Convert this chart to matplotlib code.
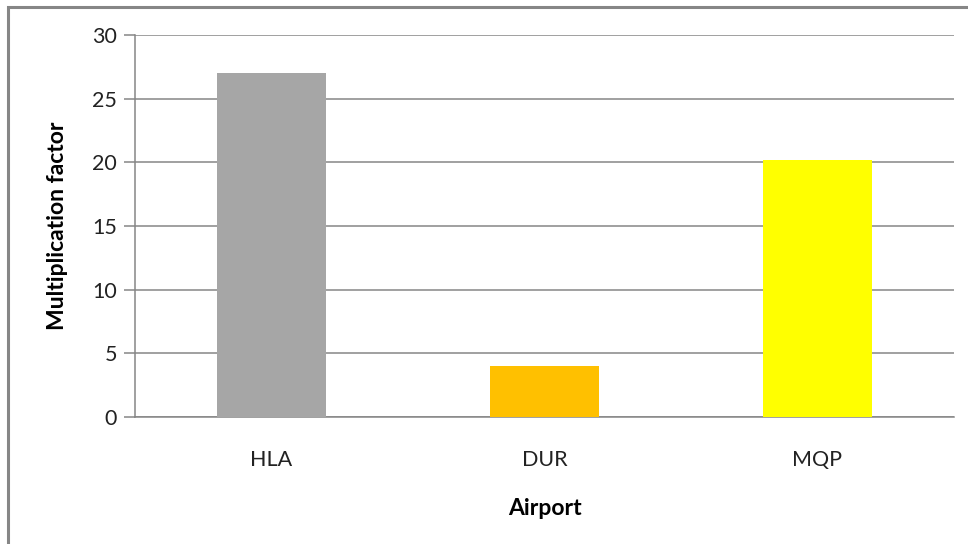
import matplotlib.pyplot as plt
from matplotlib.patches import Rectangle

airports = ["HLA", "DUR", "MQP"]
factors = [27.0, 4.0, 20.2]
bar_colors = ["#a6a6a6", "#ffc000", "#ffff00"]
y_ticks = [0, 5, 10, 15, 20, 25, 30]

plt.rcParams['font.family'] = ['Lato', 'DejaVu Sans']

W, H = 968, 544
fig = plt.figure(figsize=(W / 100, H / 100), dpi=100)

# chart border (left and top only show, the rest runs off the edge)
fig.patches.append(Rectangle((8 / W, -0.1), 1.2, 1 - 7 / H + 0.1, transform=fig.transFigure,
                             fill=False, edgecolor='#868686', linewidth=2.2))

ax = fig.add_axes([135 / W, 1 - 417 / H, (954 - 135) / W, (417 - 35) / H])
ax.bar(range(len(airports)), factors, width=0.4, color=bar_colors, zorder=3)

ax.set_xlim(-0.5, 2.5)
ax.set_ylim(0, 30)
ax.set_yticks(y_ticks)
ax.yaxis.grid(True, color='#868686', linewidth=1.1)
ax.set_axisbelow(True)
ax.set_xticks(range(len(airports)))
ax.set_xticklabels(airports)

for s in ['top', 'right']:
    ax.spines[s].set_visible(False)
ax.spines['left'].set_color('#868686')
ax.spines['bottom'].set_color('#868686')
ax.spines['left'].set_linewidth(1.1)
ax.spines['bottom'].set_linewidth(1.1)

ax.tick_params(axis='y', length=8, color='#868686', width=1.1, labelsize=15.5,
               labelcolor='#222222', pad=5)
ax.tick_params(axis='x', length=0, labelsize=15.5, labelcolor='#222222', pad=24)

ax.set_xlabel("Airport", fontsize=16.5, fontweight='bold', labelpad=20)
ax.set_ylabel("Multiplication factor", fontsize=16.5, fontweight='bold', labelpad=17)

fig.savefig("out.png", dpi=100)
